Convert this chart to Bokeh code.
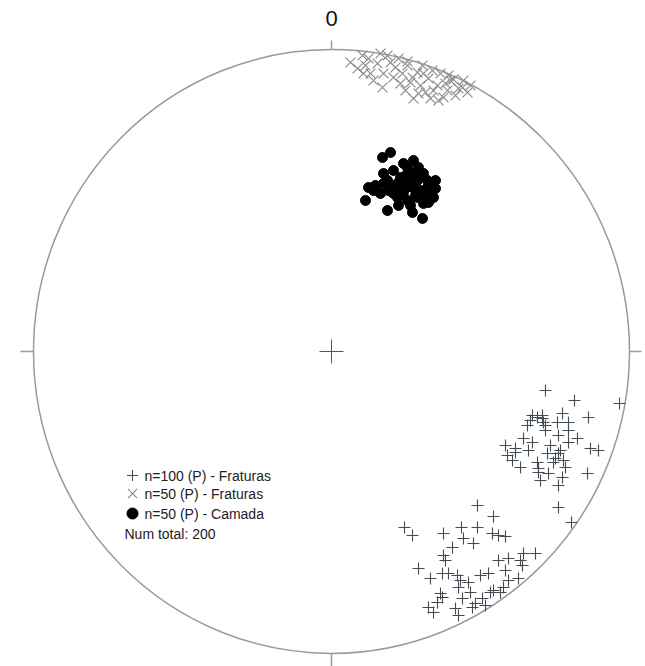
from bokeh.plotting import figure
from bokeh.models import Range1d
from bokeh.core.properties import value
from bokeh.embed import file_html
from bokeh.resources import INLINE

# Projected stereonet coordinates (net radius R = 300, centre = 0,0)
R = 300

# n=100 (P) - Fraturas  (plus marks)
frat100_x = [214, 243, 288, 201, 206, 211, 212, 214, 226, 231, 237, 257, 227, 246, 192, 201,
             237, 174, 184, 197, 229, 227, 259, 267, 176, 216, 224, 222, 181, 189, 206, 207,
             234, 217, 207, 231, 256, 227, 199, 211, 214, 219, 196, 184, 232, 237, 209,
             146, 227, 240, 162, 73, 81, 112, 130, 146, 132, 142, 121, 161, 167, 174, 112,
             192, 204, 167, 177, 189, 87, 174, 111, 117, 126, 149, 157, 99, 129, 137, 127,
             177, 187, 172, 162, 169, 109, 111, 106, 131, 151, 144, 154, 159, 97, 124, 102,
             127, 141, 191, 114, 139]
frat100_y = [-39, -49, -52, -64, -66, -67, -71, -74, -71, -62, -71, -66, -84, -87, -87, -91,
             -91, -94, -97, -99, -99, -102, -97, -99, -104, -102, -107, -111, -109, -116, -111, -117,
             -116, -122, -121, -126, -122, -134, -69, -64, -79, -94, -74, -101, -109, -79, -129,
             -154, -156, -171, -165, -176, -184, -182, -176, -176, -187, -192, -196, -182, -184, -185, -204,
             -202, -202, -209, -207, -209, -217, -219, -222, -222, -224, -224, -222, -227, -229, -231, -236,
             -229, -227, -236, -239, -241, -242, -246, -251, -247, -247, -252, -254, -241, -256, -257, -261,
             -264, -256, -214, -209, -241]

# n=50 (P) - Fraturas  (x marks)
frat50_x = [19, 31, 34, 39, 49, 46, 52, 51, 59, 64, 67, 71, 69, 74, 76, 81, 82, 86, 89, 91,
            94, 97, 101, 99, 106, 109, 112, 116, 119, 122, 127, 132, 136, 139, 26, 42, 37, 56,
            62, 79, 87, 92, 102, 107, 114, 124, 131, 32, 76, 117]
frat50_y = [289, 296, 286, 278, 298, 288, 278, 264, 289, 284, 293, 278, 268, 261, 290, 274, 253,
            279, 266, 286, 259, 273, 281, 253, 266, 278, 254, 261, 271, 272, 263, 271, 259, 266,
            283, 271, 293, 296, 274, 269, 258, 278, 261, 251, 268, 256, 264, 278, 286, 276]

# n=50 (P) - Camada  (dots)
camada_x = [51, 59, 37, 44, 34, 56, 67, 76, 81, 91, 52, 56, 62, 66, 72, 76, 82, 87, 92, 96,
            104, 101, 102, 94, 86, 89, 81, 72, 62, 57, 49, 69, 77, 86, 97, 76, 81, 89, 66, 52,
            42, 92, 79, 59, 84, 74, 96, 104, 99, 69]
camada_y = [194, 199, 164, 166, 151, 141, 146, 151, 139, 133, 178, 171, 181, 168, 188, 178, 191,
            184, 178, 171, 171, 163, 154, 156, 154, 161, 164, 159, 158, 161, 158, 174, 169, 171,
            149, 184, 178, 174, 154, 168, 161, 148, 146, 164, 156, 164, 164, 163, 156, 163]

legend_labels = ["n=100 (P) - Fraturas", "n=50 (P) - Fraturas", "n=50 (P) - Camada"]
total_label = "Num total: 200"
north_label = "0"

PLUS_COL = "#434a52"
X_COL = "#8c8c8c"
RIM_COL = "#9a9a9a"
FONT = value("Liberation Sans")

p = figure(width=645, height=666, output_backend="svg", toolbar_location=None,
           x_range=Range1d(-331, 314), y_range=Range1d(-315, 351),
           min_border=0, background_fill_color="white", border_fill_color="white")
p.axis.visible = False
p.grid.visible = False
p.outline_line_color = None

# primitive circle
p.ellipse(x=[0], y=[0], width=2 * 298, height=2 * 302, fill_color=None,
          line_color=RIM_COL, line_width=1.5)
# cardinal ticks
p.segment(x0=[0, -298, 298, 0], y0=[302, 0, 0, -302],
          x1=[0, -311, 310, 0], y1=[311, 0, 0, -316],
          line_color=RIM_COL, line_width=1.5)
# centre cross
p.segment(x0=[-12, 0], y0=[0, -12], x1=[12, 0], y1=[0, 12],
          line_color="#555555", line_width=1)

p.scatter(frat50_x, frat50_y, marker="x", size=14, line_color=X_COL, line_width=1.2)
p.scatter(frat100_x, frat100_y, marker="cross", size=12, line_color=PLUS_COL, line_width=1.1)
p.scatter(camada_x, camada_y, marker="circle", size=10, fill_color="black", line_color="black")

p.text(x=[0], y=[333], text=[north_label], text_font=FONT, text_font_size="22px",
       text_align="center", text_baseline="middle", text_color="#111111")

# legend
lx = -199
ly = [-124, -142, -162, -182]
p.scatter([lx], [ly[0]], marker="cross", size=11, line_color=PLUS_COL, line_width=1.1)
p.scatter([lx], [ly[1]], marker="x", size=13, line_color=X_COL, line_width=1.2)
p.scatter([lx], [ly[2]], marker="circle", size=11, fill_color="black", line_color="black")
p.text(x=[lx + 12] * 3 + [lx - 8], y=ly, text=legend_labels + [total_label], text_font=FONT,
       text_font_size="14px", text_align="left", text_baseline="middle", text_color="#222222")

open("out.html", "w").write(file_html(p, INLINE))
